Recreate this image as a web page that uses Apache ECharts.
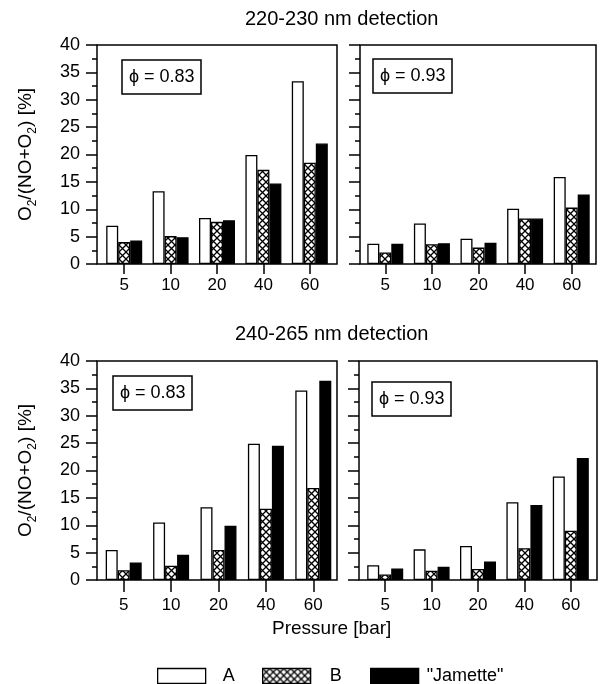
<!DOCTYPE html>
<html>
<head>
<meta charset="utf-8">
<script src="https://cdn.jsdelivr.net/npm/echarts@6/dist/echarts.min.js"></script>
<style>
html,body{margin:0;padding:0;background:#fff;}
#chart{width:601px;height:684px;}
</style>
</head>
<body>
<div id="chart"></div>
<script>
// ---- data ----
const categories = ['5', '10', '20', '40', '60'];
const seriesNames = ['A', 'B', '"Jamette"'];
const yTicks = [0, 5, 10, 15, 20, 25, 30, 35, 40];

// 220-230 nm detection, phi = 0.83
const topLeftA = [7.0, 13.3, 8.4, 19.9, 33.4];
const topLeftB = [4.0, 5.1, 7.7, 17.2, 18.5];
const topLeftJ = [4.3, 4.9, 8.0, 14.7, 22.0];
// 220-230 nm detection, phi = 0.93
const topRightA = [3.7, 7.4, 4.6, 10.1, 15.9];
const topRightB = [2.1, 3.6, 3.0, 8.3, 10.3];
const topRightJ = [3.7, 3.8, 3.9, 8.3, 12.7];
// 240-265 nm detection, phi = 0.83
const botLeftA = [5.5, 10.5, 13.3, 24.9, 34.6];
const botLeftB = [1.8, 2.6, 5.5, 13.0, 16.8];
const botLeftJ = [3.2, 4.6, 9.9, 24.5, 36.4];
// 240-265 nm detection, phi = 0.93
const botRightA = [2.7, 5.6, 6.2, 14.2, 18.9];
const botRightB = [1.0, 1.7, 2.0, 5.8, 9.0];
const botRightJ = [2.1, 2.4, 3.4, 13.7, 22.3];

const titleTop = '220-230 nm detection';
const titleBottom = '240-265 nm detection';
const phiLabels = ['\u03D5 = 0.83', '\u03D5 = 0.93', '\u03D5 = 0.83', '\u03D5 = 0.93'];
const xName = 'Pressure [bar]';

// ---- layout ----
const FONT = '"Liberation Sans", Arial, Helvetica, sans-serif';
const panels = [
  {frame: {left: 97, top: 45, width: 240, height: 219}, data: {left: 101, width: 232}, labels: true,  vals: [topLeftA, topLeftB, topLeftJ], labelMargin: 13, tickLen: 10, phiPos: [122, 60]},
  {frame: {left: 360, top: 45, width: 236, height: 219}, data: {left: 362, width: 233}, labels: false, vals: [topRightA, topRightB, topRightJ], labelMargin: 13, tickLen: 10, phiPos: [373, 59]},
  {frame: {left: 97, top: 361, width: 240, height: 219}, data: {left: 100, width: 237}, labels: true,  vals: [botLeftA, botLeftB, botLeftJ], labelMargin: 17, tickLen: 12, phiPos: [113, 376]},
  {frame: {left: 359, top: 361, width: 238, height: 219}, data: {left: 362, width: 232}, labels: false, vals: [botRightA, botRightB, botRightJ], labelMargin: 17, tickLen: 12, phiPos: [372, 382]}
];

function hatchCanvas() {
  const c = document.createElement('canvas');
  c.width = 7; c.height = 7;
  const g = c.getContext('2d');
  g.fillStyle = '#fff';
  g.fillRect(0, 0, 7, 7);
  g.strokeStyle = '#000';
  g.lineWidth = 1.3;
  g.beginPath();
  g.moveTo(0, 0); g.lineTo(7, 7);
  g.moveTo(7, 0); g.lineTo(0, 7);
  g.stroke();
  return c;
}
const hatch = {image: hatchCanvas(), repeat: 'repeat'};
const styles = [
  {color: '#fff', borderColor: '#000', borderWidth: 1.3},
  {color: hatch, borderColor: '#000', borderWidth: 1.3},
  {color: '#000', borderColor: '#000', borderWidth: 1.3}
];

const grid = [], xAxis = [], yAxis = [], series = [], title = [];
panels.forEach((p, i) => {
  // frame grid
  const fIdx = grid.length;
  grid.push({left: p.frame.left, top: p.frame.top, width: p.frame.width, height: p.frame.height,
    show: true, borderColor: '#000', borderWidth: 1.5, backgroundColor: 'transparent', containLabel: false});
  xAxis.push({gridIndex: fIdx, type: 'value', show: false});
  yAxis.push({gridIndex: fIdx, type: 'value', show: false});
  // data grid
  const dIdx = grid.length;
  grid.push({left: p.data.left, top: p.frame.top, width: p.data.width, height: p.frame.height, containLabel: false});
  xAxis.push({
    gridIndex: dIdx, type: 'category', data: categories,
    axisLine: {show: false},
    axisTick: {show: true, alignWithLabel: true, length: p.tickLen, lineStyle: {color: '#000', width: 1.5}},
    axisLabel: {show: true, color: '#000', fontSize: 17, fontFamily: FONT, margin: p.labelMargin},
    splitLine: {show: false}
  });
  const yA = {
    gridIndex: dIdx, type: 'value', min: yTicks[0], max: yTicks[yTicks.length - 1], interval: yTicks[1] - yTicks[0],
    offset: p.data.left - p.frame.left,
    axisLine: {show: false},
    axisTick: {show: true, length: 11, lineStyle: {color: '#000', width: 1.5}},
    minorTick: {show: true, splitNumber: 2, length: 5, lineStyle: {color: '#000', width: 1.5}},
    splitLine: {show: false},
    axisLabel: {show: p.labels, color: '#000', fontSize: 18, fontFamily: FONT, margin: 17}
  };
  if (p.labels) {
    yA.name = '{n|O}{sub|2}{n|/(NO+O}{sub|2}{n|) [%]}';
    yA.nameLocation = 'middle';
    yA.nameRotate = 90;
    yA.nameGap = 58;
    yA.nameTextStyle = {color: '#000', fontSize: 19, fontFamily: FONT,
      rich: {
        n: {fontSize: 19, fontFamily: FONT, color: '#000', lineHeight: 26, verticalAlign: 'middle'},
        sub: {fontSize: 12, fontFamily: FONT, color: '#000', lineHeight: 12, verticalAlign: 'bottom'}
      }};
  }
  yAxis.push(yA);
  p.vals.forEach((arr, k) => {
    series.push({
      type: 'bar', name: seriesNames[k], xAxisIndex: dIdx, yAxisIndex: dIdx,
      data: arr, barWidth: 12, barGap: '0%', itemStyle: styles[k], silent: true
    });
  });
  title.push({
    text: phiLabels[i], left: p.phiPos[0], top: p.phiPos[1],
    borderColor: '#000', borderWidth: 1.5, padding: [8, 7, 8, 7],
    textStyle: {color: '#000', fontSize: 18, fontWeight: 'normal', fontFamily: FONT}
  });
});

title.push({text: titleTop, left: 245, top: 9, padding: 0, textStyle: {color: '#000', fontSize: 20, fontWeight: 'normal', fontFamily: FONT}});
title.push({text: titleBottom, left: 235, top: 324, padding: 0, textStyle: {color: '#000', fontSize: 20, fontWeight: 'normal', fontFamily: FONT}});
title.push({text: xName, left: 272, top: 619, padding: 0, textStyle: {color: '#000', fontSize: 19, fontWeight: 'normal', fontFamily: FONT}});

const legendPos = [[157, 12], [262, 14], [370, 3]];
const legend = seriesNames.map((n, k) => ({
  data: [n], left: legendPos[k][0], top: 667, padding: 0,
  itemWidth: 48, itemHeight: 15, icon: 'rect', selectedMode: false,
  itemStyle: styles[k],
  textStyle: {color: '#000', fontSize: 18, fontFamily: FONT, padding: [0, 0, 0, legendPos[k][1]]}
}));

const chart = echarts.init(document.getElementById('chart'), null, {renderer: 'canvas'});
chart.setOption({
  animation: false,
  backgroundColor: '#fff',
  title, grid, xAxis, yAxis, series, legend
});
</script>
</body>
</html>
